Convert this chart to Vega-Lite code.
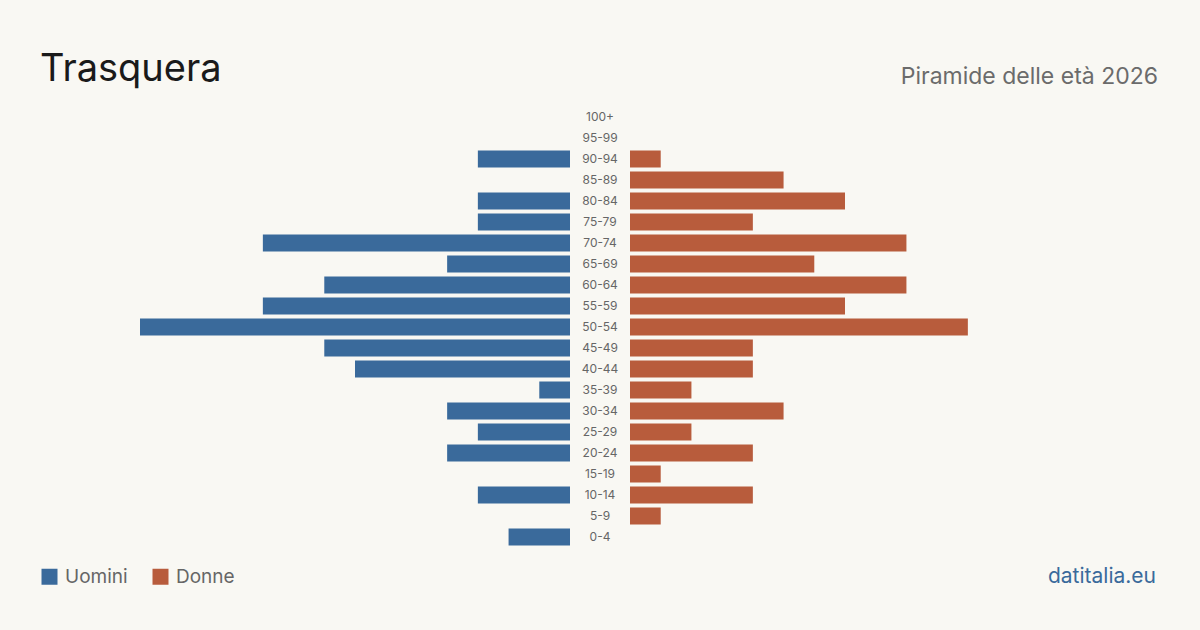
{
  "$schema": "https://vega.github.io/schema/vega-lite/v6.json",
  "width": 1200,
  "height": 630,
  "autosize": "none",
  "padding": 0,
  "background": "#f9f8f3",
  "config": {
    "view": {"stroke": null},
    "font": "Inter",
    "axis": {"domain": false, "grid": false, "ticks": false, "labels": false, "title": null}
  },
  "title": {
    "text": "Trasquera",
    "anchor": "start",
    "frame": "group",
    "orient": "top",
    "dx": 40,
    "dy": 123,
    "baseline": "alphabetic",
    "fontSize": 38,
    "fontWeight": 400,
    "color": "#1a1a1a",
    "font": "Inter"
  },
  "data": {
    "values": [
      {"eta": "100+", "uomini": 0, "donne": 0},
      {"eta": "95-99", "uomini": 0, "donne": 0},
      {"eta": "90-94", "uomini": 3, "donne": 1},
      {"eta": "85-89", "uomini": 0, "donne": 5},
      {"eta": "80-84", "uomini": 3, "donne": 7},
      {"eta": "75-79", "uomini": 3, "donne": 4},
      {"eta": "70-74", "uomini": 10, "donne": 9},
      {"eta": "65-69", "uomini": 4, "donne": 6},
      {"eta": "60-64", "uomini": 8, "donne": 9},
      {"eta": "55-59", "uomini": 10, "donne": 7},
      {"eta": "50-54", "uomini": 14, "donne": 11},
      {"eta": "45-49", "uomini": 8, "donne": 4},
      {"eta": "40-44", "uomini": 7, "donne": 4},
      {"eta": "35-39", "uomini": 1, "donne": 2},
      {"eta": "30-34", "uomini": 4, "donne": 5},
      {"eta": "25-29", "uomini": 3, "donne": 2},
      {"eta": "20-24", "uomini": 4, "donne": 4},
      {"eta": "15-19", "uomini": 0, "donne": 1},
      {"eta": "10-14", "uomini": 3, "donne": 4},
      {"eta": "5-9", "uomini": 0, "donne": 1},
      {"eta": "0-4", "uomini": 2, "donne": 0}
    ]
  },
  "encoding": {
    "y": {
      "field": "eta",
      "type": "nominal",
      "sort": null,
      "axis": null,
      "scale": {"range": [106.5, 547.5], "paddingInner": 0.19, "paddingOuter": 0.095}
    }
  },
  "layer": [
    {
      "mark": {"type": "bar"},
      "encoding": {
        "x": {
          "field": "uomini",
          "type": "quantitative",
          "axis": null,
          "scale": {"domain": [0, 14], "range": [570, 140], "nice": false}
        },
        "color": {
          "datum": "Uomini",
          "scale": {"domain": ["Uomini", "Donne"], "range": ["#3a6a9b", "#b85c3c"]},
          "legend": {
            "orient": "none",
            "legendX": 40,
            "legendY": 567,
            "direction": "horizontal",
            "title": null,
            "symbolType": "square",
            "symbolSize": 256,
            "symbolStrokeWidth": 0,
            "symbolOpacity": 1,
            "labelFontSize": 19,
            "labelColor": "#666666",
            "labelFont": "Inter",
            "columnPadding": 23,
            "labelOffset": 6
          }
        }
      }
    },
    {
      "mark": {"type": "bar"},
      "encoding": {
        "x": {
          "field": "donne",
          "type": "quantitative",
          "axis": null,
          "scale": {"domain": [0, 14], "range": [630, 1060], "nice": false}
        },
        "color": {"datum": "Donne"}
      }
    },
    {
      "mark": {"type": "text", "align": "center", "baseline": "middle", "fontSize": 12, "color": "#666666", "font": "Inter"},
      "encoding": {
        "x": {"value": 600},
        "text": {"field": "eta"}
      }
    },
    {
      "data": {"values": [{"testo": "Piramide delle età 2026"}]},
      "mark": {"type": "text", "align": "right", "baseline": "alphabetic", "fontSize": 23, "color": "#6b6b6b", "font": "Inter"},
      "encoding": {
        "x": {"value": 1158},
        "y": {"value": 84},
        "text": {"field": "testo"}
      }
    },
    {
      "data": {"values": [{"testo": "datitalia.eu"}]},
      "mark": {"type": "text", "align": "right", "baseline": "alphabetic", "fontSize": 21, "color": "#3a6a9b", "font": "Inter"},
      "encoding": {
        "x": {"value": 1156},
        "y": {"value": 583},
        "text": {"field": "testo"}
      }
    }
  ],
  "resolve": {"scale": {"x": "independent"}}
}
